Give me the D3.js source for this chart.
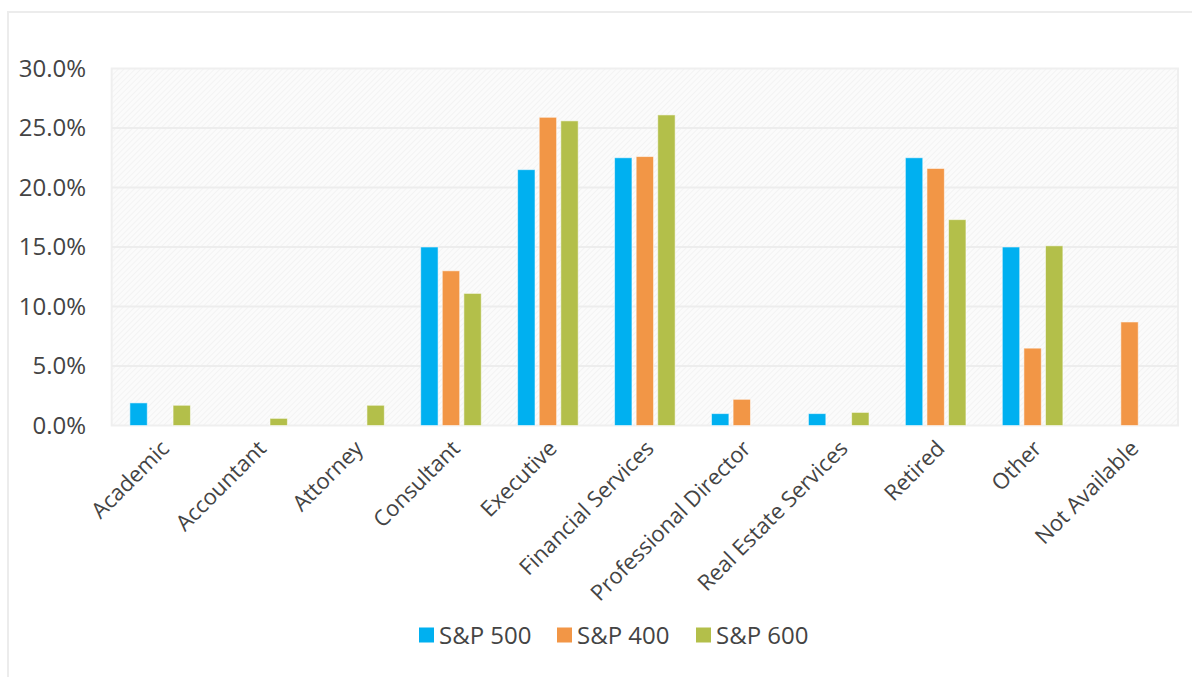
<!DOCTYPE html>
<html>
<head>
<meta charset="utf-8">
<script src="https://cdn.jsdelivr.net/npm/d3@7"></script>
<style>
  html, body { margin: 0; padding: 0; background: #fff; }
  svg { display: block; font-family: "Open Sans", "Noto Sans", sans-serif; }
</style>
</head>
<body>
<svg id="chart" width="1192" height="677"></svg>
<script>
// Board member backgrounds by index (share of directors)
const categories = ["Academic", "Accountant", "Attorney", "Consultant", "Executive",
  "Financial Services", "Professional Director", "Real Estate Services", "Retired", "Other", "Not Available"];
const seriesNames = ["S&P 500", "S&P 400", "S&P 600"];
const sp500 = [1.9, 0, 0, 15.0, 21.5, 22.5, 1.0, 1.0, 22.5, 15.0, 0];
const sp400 = [0, 0, 0, 13.0, 25.9, 22.6, 2.2, 0, 21.6, 6.5, 8.7];
const sp600 = [1.7, 0.6, 1.7, 11.1, 25.6, 26.1, 0, 1.1, 17.3, 15.1, 0];
const yTicks = [0, 5, 10, 15, 20, 25, 30];
const colors = ["#00B0F0", "#F29646", "#B3BF4A"];

const seriesValues = [sp500, sp400, sp600];
const rows = categories.map((c, i) => ({
  category: c,
  values: seriesNames.map((s, j) => ({ series: s, value: seriesValues[j][i], color: colors[j] }))
}));

const svg = d3.select("#chart");
const W = 1192, H = 677;
const plot = { left: 111.7, right: 1178, top: 68.5, bottom: 425.5 };
const textColor = "#444444";

// outer chart frame
svg.append("rect")
  .attr("x", 8).attr("y", 12)
  .attr("width", W).attr("height", H)
  .attr("fill", "#fff")
  .attr("stroke", "#ececec").attr("stroke-width", 2);

// faint diagonal hatch for the plot area
const defs = svg.append("defs");
const pat = defs.append("pattern")
  .attr("id", "hatch").attr("patternUnits", "userSpaceOnUse")
  .attr("width", 4).attr("height", 4)
  .attr("patternTransform", "rotate(45)");
pat.append("rect").attr("width", 4).attr("height", 4).attr("fill", "#fbfbfb");
pat.append("line").attr("x1", 0).attr("y1", 0).attr("x2", 0).attr("y2", 4)
  .attr("stroke", "#f1f1f1").attr("stroke-width", 1.5);

svg.append("rect")
  .attr("x", plot.left).attr("y", plot.top)
  .attr("width", plot.right - plot.left).attr("height", plot.bottom - plot.top)
  .attr("fill", "url(#hatch)")
  .attr("stroke", "#efefef").attr("stroke-width", 2);

const y = d3.scaleLinear().domain([0, 30]).range([plot.bottom, plot.top]);
const x0 = d3.scaleBand().domain(categories).range([plot.left, plot.right]).paddingInner(0).paddingOuter(0);
const groupW = x0.bandwidth() * 0.625;
const x1 = d3.scaleBand().domain(seriesNames)
  .range([(x0.bandwidth() - groupW) / 2, (x0.bandwidth() + groupW) / 2])
  .paddingInner(0.194).paddingOuter(0);

// gridlines
svg.append("g")
  .selectAll("line")
  .data(yTicks.slice(1, -1))
  .join("line")
  .attr("x1", plot.left).attr("x2", plot.right)
  .attr("y1", d => y(d)).attr("y2", d => y(d))
  .attr("stroke", "#ededed").attr("stroke-width", 2);

// y axis labels
const yAxis = d3.axisLeft(y).tickValues(yTicks).tickSize(0).tickPadding(0)
  .tickFormat(d => d.toFixed(1) + "%");
const yg = svg.append("g").attr("transform", `translate(${86},0)`).call(yAxis);
yg.select(".domain").remove();
yg.selectAll("text")
  .attr("fill", textColor)
  .style("font-size", "24px")
  .style("font-family", "'Open Sans', sans-serif");

// bars
const groups = svg.append("g")
  .selectAll("g")
  .data(rows)
  .join("g")
  .attr("transform", d => `translate(${x0(d.category)},0)`);

groups.selectAll("rect")
  .data(d => d.values.filter(v => v.value > 0))
  .join("rect")
  .attr("x", d => x1(d.series))
  .attr("width", x1.bandwidth())
  .attr("y", d => y(d.value))
  .attr("height", d => y(0) - y(d.value))
  .attr("fill", d => d.color)
  .attr("stroke", "rgba(255,255,255,0.55)")
  .attr("stroke-width", 1);

// x axis labels
const xAxis = d3.axisBottom(x0).tickSize(0).tickPadding(0);
const xg = svg.append("g").attr("transform", `translate(0,${plot.bottom})`).call(xAxis);
xg.select(".domain").remove();
xg.selectAll("text")
  .attr("fill", textColor)
  .style("font-size", "22px")
  .style("font-family", "'Open Sans', sans-serif")
  .attr("text-anchor", "end")
  .attr("dy", null)
  .attr("y", 0)
  .attr("transform", "translate(4,18) rotate(-45)")
  .attr("dominant-baseline", "central");

// legend
const legendItems = [
  { name: seriesNames[0], color: colors[0], x: 419 },
  { name: seriesNames[1], color: colors[1], x: 557 },
  { name: seriesNames[2], color: colors[2], x: 696 }
];
const legend = svg.append("g").attr("transform", "translate(0,635)");
const li = legend.selectAll("g").data(legendItems).join("g")
  .attr("transform", d => `translate(${d.x},0)`);
li.append("rect").attr("x", 0).attr("y", -7.5).attr("width", 15).attr("height", 15)
  .attr("fill", d => d.color);
li.append("text").attr("x", 20).attr("y", 0).attr("dy", "0.36em")
  .attr("fill", textColor)
  .style("font-size", "24px")
  .text(d => d.name);
</script>
</body>
</html>
